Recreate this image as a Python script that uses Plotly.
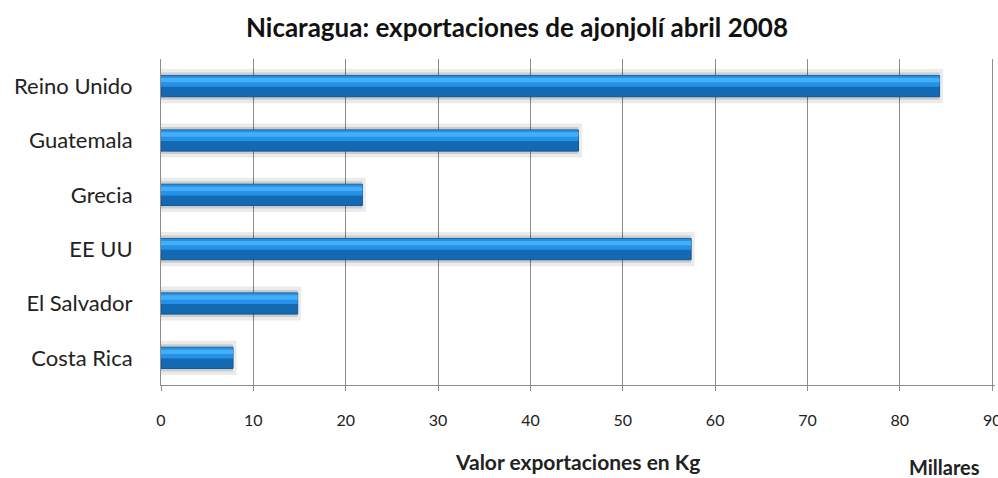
import plotly.graph_objects as go

countries = ['Costa Rica', 'El Salvador', 'EE UU', 'Grecia', 'Guatemala', 'Reino Unido']
exports_thousand_kg = [7.8, 14.8, 57.4, 21.8, 45.2, 84.3]

x_ticks = [0, 10, 20, 30, 40, 50, 60, 70, 80, 90]

FONT = 'Lato, Open Sans, sans-serif'

fig = go.Figure()

# soft shadow behind each bar
fig.add_trace(go.Bar(
    y=countries, x=exports_thousand_kg, orientation='h',
    width=0.5, offset=-0.25,
    marker=dict(color='rgba(0,0,0,0.13)', line=dict(color='rgba(0,0,0,0.08)', width=7)),
    hoverinfo='skip', showlegend=False
))

# main bar body
fig.add_trace(go.Bar(
    y=countries, x=exports_thousand_kg, orientation='h',
    width=0.39, offset=-0.195,
    marker=dict(color='#1469b3', line=dict(color='#0e5593', width=1)),
    showlegend=False
))

# lighter upper faces for the bevelled look
fig.add_trace(go.Bar(
    y=countries, x=exports_thousand_kg, orientation='h',
    width=0.2, offset=-0.01,
    marker=dict(color='#2692e6', line=dict(width=0)),
    hoverinfo='skip', showlegend=False
))
fig.add_trace(go.Bar(
    y=countries, x=exports_thousand_kg, orientation='h',
    width=0.08, offset=0.07,
    marker=dict(color='#44aef8', line=dict(width=0)),
    hoverinfo='skip', showlegend=False
))

fig.update_layout(
    width=998, height=478,
    barmode='overlay',
    paper_bgcolor='white', plot_bgcolor='white',
    margin=dict(l=161, r=3, t=59, b=93, autoexpand=False),
    font=dict(family=FONT, color='#222'),
    title=dict(
        text='<b>Nicaragua: exportaciones de ajonjolí abril 2008</b>',
        x=0.518, xanchor='center', y=0.941, yanchor='middle',
        font=dict(size=26, family=FONT, color='#111'),
        automargin=False
    ),
    xaxis=dict(
        range=[0, 90.3], tickvals=x_ticks,
        showgrid=True, gridcolor='#8c8c8c', gridwidth=1,
        zeroline=False,
        showline=True, linecolor='#8c8c8c', linewidth=1,
        ticks='outside', ticklen=5, tickcolor='#8c8c8c',
        ticklabelstandoff=16, ticklabeloverflow='allow',
        tickfont=dict(size=16, family=FONT, color='#222'),
        automargin=False,
        fixedrange=True
    ),
    yaxis=dict(
        showgrid=False, zeroline=False,
        showline=True, linecolor='#8c8c8c', linewidth=1,
        ticks='', ticklabelstandoff=23,
        tickfont=dict(size=22, family=FONT, color='#222'),
        automargin=False,
        fixedrange=True
    ),
    annotations=[
        dict(text='<b>Valor exportaciones en Kg</b>', xref='paper', yref='paper',
             x=0.4995, y=-0.236, xanchor='center', yanchor='middle',
             showarrow=False, font=dict(size=21, family=FONT, color='#222')),
        dict(text='<b>Millares</b>', xref='paper', yref='paper',
             x=0.939, y=-0.25, xanchor='center', yanchor='middle',
             showarrow=False, font=dict(size=20, family=FONT, color='#222')),
    ]
)

# drop the default page margin so the figure fills the window exactly
fig.write_html('out.html', config={'displayModeBar': False},
               post_script="document.body.style.margin='0';")
